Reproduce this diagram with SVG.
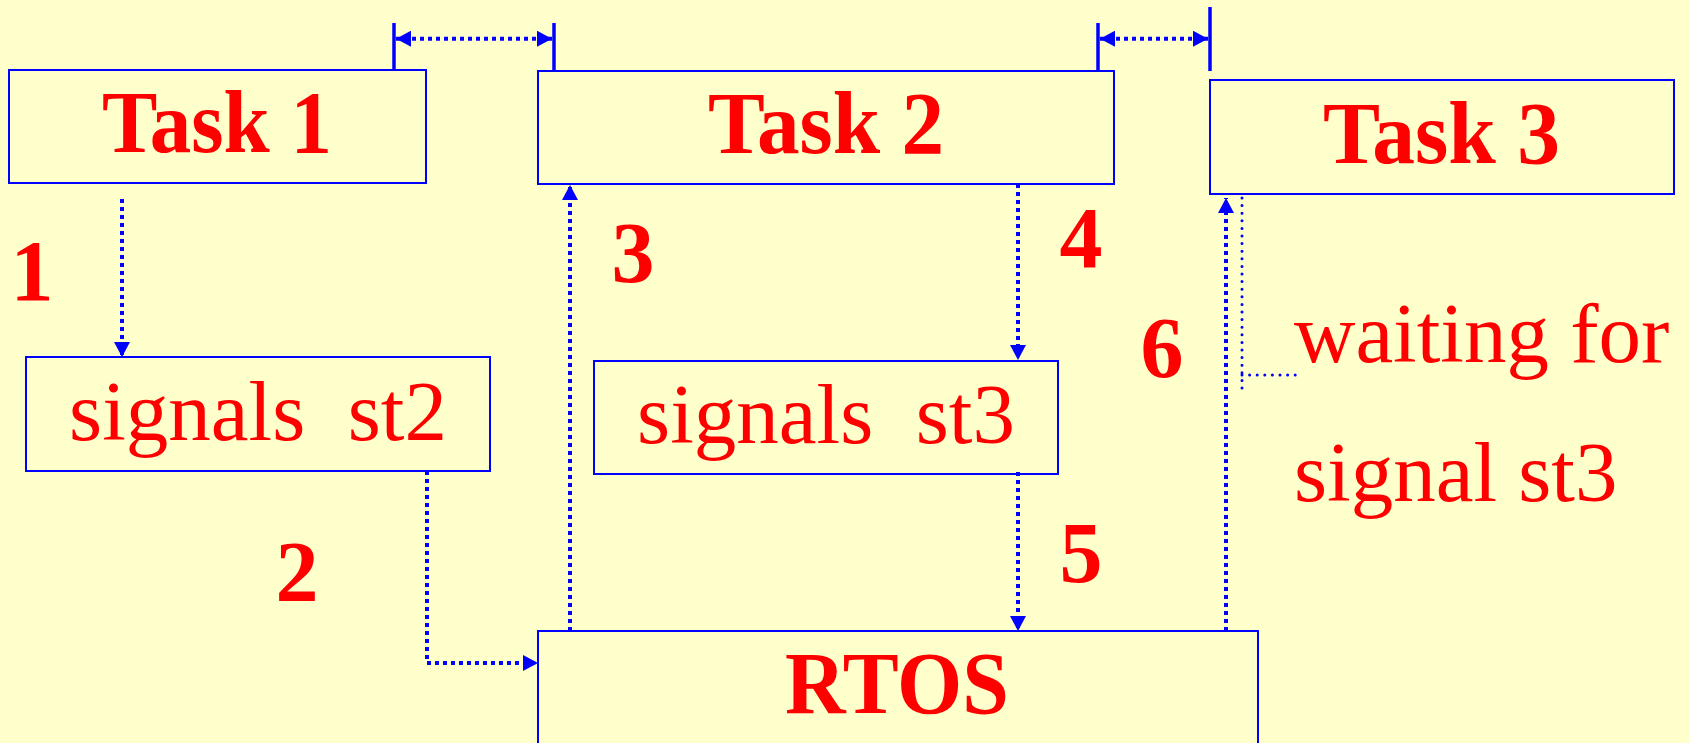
<svg xmlns="http://www.w3.org/2000/svg" width="1690" height="743" viewBox="0 0 1690 743">
<style>
.box{fill:none;stroke:#0000FF;stroke-width:2}
.bold{font-family:"Liberation Serif","Times New Roman",serif;font-weight:bold;font-size:86px;fill:#FF0000}
.title{font-family:"Liberation Serif","Times New Roman",serif;font-weight:bold;font-size:89px;fill:#FF0000}
.reg{font-family:"Liberation Serif","Times New Roman",serif;font-size:85px;fill:#FF0000}
.dot{fill:none;stroke:#0000FF;stroke-width:4;stroke-dasharray:4 4}
.fine{fill:none;stroke:#0000FF;stroke-width:3;stroke-linecap:round;stroke-dasharray:0 7.6}
.tick{stroke:#0000FF;stroke-width:3.5}
</style>
<defs>
<marker id="ah" markerUnits="userSpaceOnUse" markerWidth="15" markerHeight="16" refX="15" refY="8" orient="auto-start-reverse" viewBox="0 0 15 16">
<path d="M0,0 L15,8 L0,16 Z" fill="#0000FF"/>
</marker>
</defs>
<rect width="1690" height="743" fill="#FFFFCC"/>
<g id="task1">
<rect class="box" x="9" y="70" width="417" height="113"/>
<text class="title" x="102" y="152" textLength="230" lengthAdjust="spacingAndGlyphs">Task 1</text>
</g>
<g id="task2">
<rect class="box" x="538" y="71" width="576" height="113"/>
<text class="title" x="708" y="153" textLength="236" lengthAdjust="spacingAndGlyphs">Task 2</text>
</g>
<g id="task3">
<rect class="box" x="1210" y="80" width="464" height="114"/>
<text class="title" x="1323" y="163" textLength="237" lengthAdjust="spacingAndGlyphs">Task 3</text>
</g>
<g id="signals-st2">
<rect class="box" x="26" y="357" width="464" height="114"/>
<text class="reg" x="258" y="440" text-anchor="middle" xml:space="preserve">signals  st2</text>
</g>
<g id="signals-st3">
<rect class="box" x="594" y="361" width="464" height="113"/>
<text class="reg" x="826" y="443" text-anchor="middle" xml:space="preserve">signals  st3</text>
</g>
<g id="rtos">
<rect class="box" x="538" y="631" width="720" height="130"/>
<text class="title" x="785" y="713" textLength="224" lengthAdjust="spacingAndGlyphs">RTOS</text>
</g>
<g id="waiting-note">
<text class="reg" x="1294" y="362">waiting for</text>
<text class="reg" x="1294" y="501">signal st3</text>
</g>
<g id="step-labels">
<text class="bold" x="32" y="300" text-anchor="middle">1</text>
<text class="bold" x="297" y="601" text-anchor="middle">2</text>
<text class="bold" x="633" y="282" text-anchor="middle">3</text>
<text class="bold" x="1081" y="267" text-anchor="middle">4</text>
<text class="bold" x="1081" y="582" text-anchor="middle">5</text>
<text class="bold" x="1162" y="377" text-anchor="middle">6</text>
</g>
<g id="connectors">
<line class="tick" x1="394" y1="23" x2="394" y2="70"/>
<line class="tick" x1="554" y1="23" x2="554" y2="71"/>
<line class="tick" x1="1098" y1="23" x2="1098" y2="71"/>
<line class="tick" x1="1210" y1="7" x2="1210" y2="71"/>
<line class="dot" x1="396" y1="38.7" x2="552" y2="38.7" marker-start="url(#ah)" marker-end="url(#ah)"/>
<line class="dot" x1="1100" y1="38.7" x2="1208" y2="38.7" marker-start="url(#ah)" marker-end="url(#ah)"/>
<line class="dot" x1="122" y1="199" x2="122" y2="357" marker-end="url(#ah)"/>
<polyline class="dot" points="427,471 427,663 538,663" marker-end="url(#ah)"/>
<line class="dot" x1="570" y1="631" x2="570" y2="185" marker-end="url(#ah)"/>
<line class="dot" x1="1018" y1="184" x2="1018" y2="360" marker-end="url(#ah)"/>
<line class="dot" x1="1018" y1="472" x2="1018" y2="631" marker-end="url(#ah)"/>
<line class="dot" x1="1226" y1="631" x2="1226" y2="198" marker-end="url(#ah)"/>
<polyline class="fine" points="1242,198 1242,390"/>
<line class="fine" x1="1242" y1="375" x2="1301" y2="375"/>
</g>
</svg>
